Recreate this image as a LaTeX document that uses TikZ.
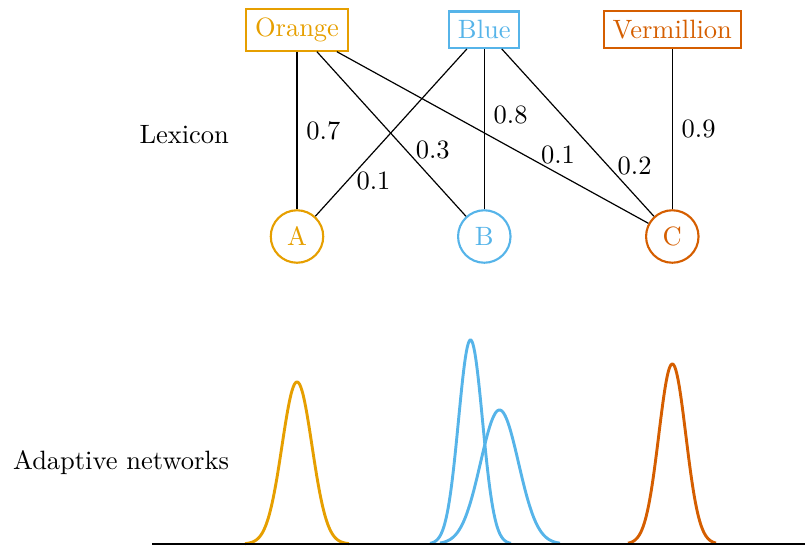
\documentclass[tikz,border=0pt]{standalone}
\definecolor{okorange}{HTML}{E69F00}
\definecolor{okblue}{HTML}{56B4E9}
\definecolor{okverm}{HTML}{D55E00}
\begin{document}
\begin{tikzpicture}[x=0.3774pt, y=-0.3774pt,
  word/.style={draw, line width=0.8pt, inner sep=3.33pt},
  obj/.style={circle, draw, line width=0.8pt, minimum size=19.8pt, inner sep=0pt},
  link/.style={line width=0.45pt, black},
  wt/.style={text=black},
  side/.style={anchor=base east, inner sep=0pt},
  curve/.style={line width=1.1pt, samples=140, smooth}]
\useasboundingbox (0,0) rectangle (805,546);
% lexicon words
\node[word, okorange] (orange) at (297,29.7) {Orange};
\node[word, okblue] (blue) at (484.3,29.7) {Blue};
\node[word, okverm] (verm) at (672.3,29.7) {Vermillion};
% objects
\node[obj, okorange] (A) at (297,236.5) {A};
\node[obj, okblue] (B) at (484.3,236.5) {B};
\node[obj, okverm] (C) at (672.3,236.5) {C};
% links
\draw[link] (orange) -- node[wt, pos=0.5, right] {0.7} (A);
\draw[link] (orange) -- node[wt, pos=0.6, right] {0.3} (B);
\draw[link] (orange) -- node[wt, pos=0.71, above] {0.1} (C);
\draw[link] (blue) -- node[wt, pos=0.79, right] {0.1} (A);
\draw[link] (blue) -- node[wt, pos=0.41, right] {0.8} (B);
\draw[link] (blue) -- node[wt, pos=0.7, right] {0.2} (C);
\draw[link] (verm) -- node[wt, pos=0.5, right] {0.9} (C);
% side labels
\node[side] (lex) at (229.5,143) {Lexicon};
\node[side] (adn) at (229.5,469.5) {Adaptive networks};
% curves
\draw[curve, okorange, domain=245:349] plot (\x, {544 - 162*exp(-((\x-297)^2)/450)});
\draw[curve, okblue, domain=430:511] plot (\x, {544 - 204*exp(-((\x-470.5)^2)/288)});
\draw[curve, okblue, domain=440:560] plot (\x, {544 - 134*exp(-((\x-499.5)^2)/722)});
\draw[curve, okverm, domain=628:716] plot (\x, {544 - 180*exp(-((\x-672.3)^2)/364.5)});
% axis
\coordinate (ax0) at (152,544);
\coordinate (ax1) at (805,544);
\draw[line width=0.6pt, black] (ax0) -- (ax1);
\end{tikzpicture}
\end{document}
